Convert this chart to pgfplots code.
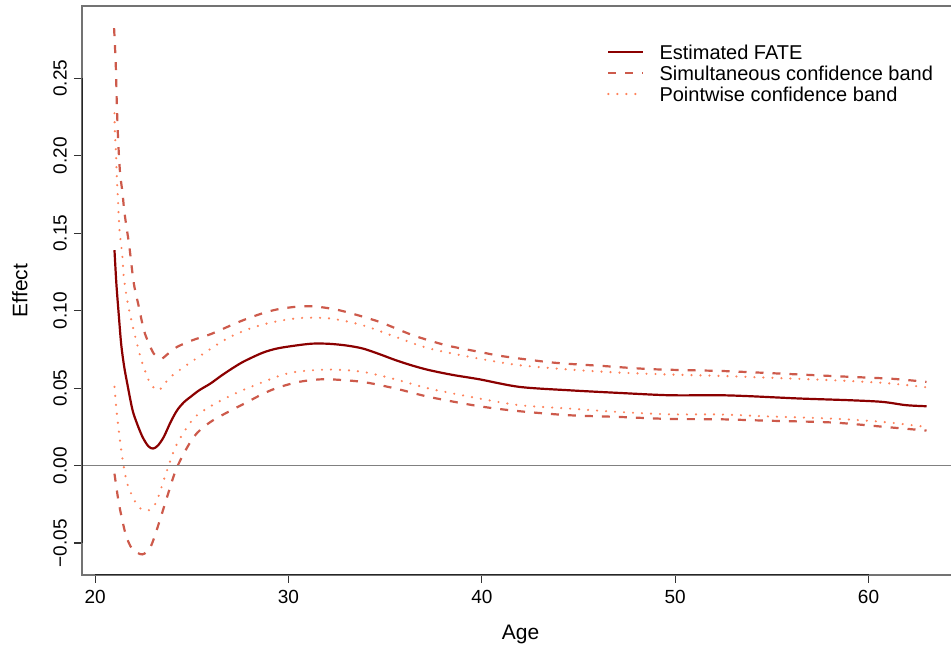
\documentclass[border=0pt]{standalone}
\usepackage{fontspec}
\setmainfont{Liberation Sans}
\usepackage{pgfplots}
\pgfplotsset{compat=1.18}

\definecolor{fate}{RGB}{139,0,0}
\definecolor{simband}{RGB}{205,90,75}
\definecolor{ptband}{RGB}{255,130,90}

\begin{document}
\begin{tikzpicture}
\begin{axis}[
  name=ax,
  scale only axis,
  width=438.5pt, height=284.5pt,
  xmin=19.32, xmax=64.68,
  ymin=-0.0706, ymax=0.2966,
  axis line style={black!55, line width=0.6pt},
  tick style={black!80, line width=0.6pt},
  tick align=outside,
  tick pos=left,
  major tick length=4pt,
  xtick={20,30,40,50,60},
  xticklabels={20,30,40,50,60},
  ytick={-0.05,0,0.05,0.1,0.15,0.2,0.25},
  yticklabels={−0.05,0.00,0.05,0.10,0.15,0.20,0.25},
  ticklabel style={font=\fontsize{9.5}{11}\selectfont},
  yticklabel style={rotate=90, anchor=south},
  xlabel={Age},
  ylabel={Effect},
  label style={font=\fontsize{10.5}{12}\selectfont},
  xlabel style={at={(axis description cs:0.5,0)}, anchor=base, yshift=-32.5pt},
  ylabel style={at={(axis description cs:0,0.5)}, anchor=center, rotate=0, yshift=31pt},
  legend style={draw=none, fill=none, at={(rel axis cs:0.5983,0.9327)}, anchor=north west,
    inner sep=0pt, column sep=7.5pt, row sep=0pt,
    nodes={inner sep=0pt, text height=7.5pt, text depth=3pt},
    font=\fontsize{10}{12}\selectfont, cells={anchor=west}},
  legend image code/.code={\draw[#1] (0pt,1.6pt) -- (17.5pt,1.6pt);},
]
\addplot[fate, line width=1.1pt, smooth, tension=0.5] coordinates {
(21.0,0.139) (21.1,0.117) (21.23,0.096) (21.35,0.078) (21.5,0.064) (21.66,0.053)
(21.93,0.036) (22.17,0.027) (22.45,0.0185) (22.75,0.0125) (23.0,0.011) (23.25,0.013)
(23.55,0.0185) (23.9,0.028) (24.24,0.0357) (24.6,0.041) (24.93,0.0443) (25.38,0.0486)
(25.97,0.053) (26.5,0.0578) (27.1,0.0628) (27.69,0.0672) (28.66,0.0728) (29.42,0.0756)
(30.38,0.0775) (31.24,0.0787) (32.1,0.0786) (33.0,0.0775) (33.83,0.0756) (34.69,0.072)
(35.55,0.068) (36.42,0.0645) (37.28,0.0616) (38.5,0.0585) (39.87,0.0557) (41.94,0.0508)
(44.52,0.0486) (47.1,0.0469) (49.7,0.0454) (52.28,0.0454) (53.83,0.0448) (56.42,0.0433)
(59.0,0.0422) (60.73,0.0411) (61.94,0.039) (63.0,0.0383)
};
\addlegendentry{Estimated FATE}
\addplot[simband, line width=1.1pt, dash pattern=on 4pt off 4.5pt, smooth, tension=0.5] coordinates {
(20.98,0.2823) (21.07,0.2575) (21.12,0.2338) (21.19,0.210) (21.29,0.1886) (21.41,0.1767)
(21.5,0.165) (21.62,0.154) (21.76,0.1423) (22.0,0.1176) (22.26,0.1025) (22.52,0.0874)
(22.78,0.0788) (23.03,0.0723) (23.3,0.0694) (23.47,0.0691) (23.8,0.0725) (24.24,0.0766)
(25.03,0.0809) (25.97,0.0848) (26.93,0.0900) (27.69,0.0940) (28.66,0.0983) (29.42,0.1008)
(30.38,0.1025) (31.24,0.1028) (32.1,0.1015) (32.97,0.0992) (34.69,0.0928) (36.42,0.0842)
(38.14,0.0777) (39.87,0.0734) (41.07,0.0706) (43.66,0.0665) (46.24,0.0643) (48.83,0.0622)
(52.28,0.0611) (53.83,0.0603) (56.42,0.0588) (59.0,0.0573) (61.25,0.056) (63.0,0.054)
};
\addlegendentry{Simultaneous confidence band}
\addplot[ptband, line width=1.2pt, line cap=round, dash pattern=on 0pt off 4.5pt, smooth, tension=0.5] coordinates {
(21.0,0.2274) (21.02,0.2155) (21.07,0.2037) (21.12,0.1864) (21.19,0.1692) (21.26,0.152)
(21.41,0.1348) (21.48,0.1218) (21.66,0.1068) (21.91,0.0917) (22.34,0.0702) (22.6,0.0605)
(22.86,0.053) (23.29,0.0486) (23.9,0.0572) (25.1,0.068) (26.9,0.0825) (28.55,0.0906)
(30.38,0.095) (32.1,0.095) (33.83,0.0906) (35.55,0.083) (37.28,0.0756) (39.87,0.069)
(41.94,0.0648) (44.52,0.062) (47.1,0.060) (49.7,0.0588) (52.28,0.0579) (54.7,0.0568)
(58.14,0.0551) (60.73,0.0534) (62.54,0.0512) (63.0,0.0505)
};
\addlegendentry{Pointwise confidence band}
\addplot[simband, line width=1.1pt, dash pattern=on 4pt off 4.5pt, smooth, tension=0.5, forget plot] coordinates {
(21.0,-0.0052) (21.23,-0.0245) (21.57,-0.0439) (21.91,-0.0536) (22.43,-0.0573) (22.86,-0.0526)
(23.29,-0.0375) (23.72,-0.0203) (24.24,-0.0009) (25.1,0.0185) (25.97,0.0282) (27.27,0.0372)
(27.69,0.0398) (28.66,0.0462) (29.42,0.0502) (30.38,0.0536) (31.2,0.0552) (32.1,0.0557)
(33.83,0.054) (35.55,0.0497) (37.28,0.0443) (39.87,0.0383) (41.94,0.0351) (44.52,0.0325)
(47.1,0.0314) (49.7,0.0301) (52.28,0.0299) (54.7,0.029) (58.14,0.0278) (60.9,0.0249)
(63.0,0.0226)
};
\addplot[ptband, line width=1.2pt, line cap=round, dash pattern=on 0pt off 4.5pt, smooth, tension=0.5, forget plot] coordinates {
(21.0,0.0508) (21.14,0.0314) (21.4,0.0056) (21.66,-0.0116) (22.08,-0.0235) (22.43,-0.0284)
(22.86,-0.0284) (23.2,-0.0224) (23.72,-0.003) (24.24,0.0142) (25.1,0.0305) (26.0,0.0385)
(26.9,0.0445) (27.7,0.049) (28.6,0.0535) (29.5,0.0578) (30.38,0.0605) (32.1,0.062)
(33.83,0.0605) (35.55,0.0556) (37.28,0.0497) (39.87,0.0433) (41.94,0.039) (44.52,0.0368)
(47.1,0.0346) (49.7,0.0331) (52.28,0.033) (54.7,0.0318) (58.14,0.0303) (60.73,0.0282)
(62.71,0.0254) (63.0,0.025)
};
\addplot[black!50, line width=0.5pt, forget plot] coordinates {(19.32,0) (64.68,0)};
\draw[black!85, line width=0.6pt] (axis cs:20,-0.0706) -- (axis cs:60,-0.0706);
\draw[black!85, line width=0.6pt] (axis cs:19.32,-0.05) -- (axis cs:19.32,0.25);
\end{axis}
\pgfresetboundingbox
\useasboundingbox (-41pt,-35.5pt) rectangle (434.5pt,287.5pt);
\end{tikzpicture}
\end{document}
